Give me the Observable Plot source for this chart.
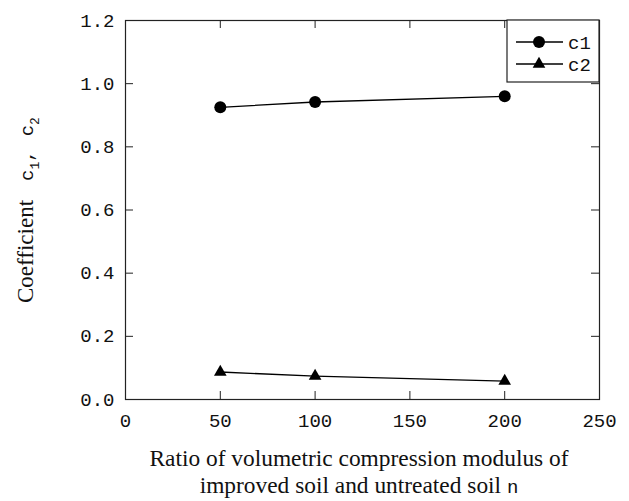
<!DOCTYPE html>
<html>
<head>
<meta charset="utf-8">
<script src="https://cdn.jsdelivr.net/npm/d3@7"></script>
<script src="https://cdn.jsdelivr.net/npm/@observablehq/plot@0.6"></script>
<style>
  html, body { margin: 0; padding: 0; background: #fff; }
  #chart svg { display: block; }
</style>
</head>
<body>
<div id="chart"></div>
<script>
const nValues = [50, 100, 200];
const c1Values = [0.925, 0.942, 0.960];
const c2Values = [0.087, 0.074, 0.058];
const xTicks = [0, 50, 100, 150, 200, 250];
const yTicks = [0, 0.2, 0.4, 0.6, 0.8, 1.0, 1.2];
const seriesNames = ["c1", "c2"];

const W = 629, H = 501;
const mL = 125, mR = 30, mT = 20, mB = 102;
const innerW = W - mL - mR, innerH = H - mT - mB;
const tickLen = 8;

const c1 = nValues.map((n, i) => ({n, v: c1Values[i]}));
const c2 = nValues.map((n, i) => ({n, v: c2Values[i]}));
const monoFont = "'Liberation Mono', 'DejaVu Sans Mono', monospace";
const serifFont = "'Liberation Serif', 'DejaVu Serif', serif";

const plot = Plot.plot({
  width: W, height: H,
  marginLeft: mL, marginRight: mR, marginTop: mT, marginBottom: mB,
  style: {fontFamily: monoFont, fontSize: "19px", color: "#111", background: "#fff"},
  x: {domain: [0, 250], ticks: xTicks, tickFormat: d => String(d)},
  y: {domain: [0, 1.2], ticks: yTicks, tickFormat: d => d.toFixed(1)},
  marks: [
    Plot.axisX({ticks: xTicks, tickSize: 0, tickPadding: 14, label: null, fontSize: 19}),
    Plot.axisY({ticks: yTicks, tickSize: 0, tickPadding: 11, label: null, fontSize: 19}),
    // inward ticks on all four sides
    Plot.tickX(xTicks, {x: d => d, insetTop: innerH - tickLen, stroke: "#222"}),
    Plot.tickX(xTicks, {x: d => d, insetBottom: innerH - tickLen, stroke: "#222"}),
    Plot.tickY(yTicks, {y: d => d, insetRight: innerW - tickLen, stroke: "#222"}),
    Plot.tickY(yTicks, {y: d => d, insetLeft: innerW - tickLen, stroke: "#222"}),
    Plot.frame({stroke: "#222", strokeWidth: 1.2}),
    Plot.line(c1, {x: "n", y: "v", stroke: "#000", strokeWidth: 1.3}),
    Plot.line(c2, {x: "n", y: "v", stroke: "#000", strokeWidth: 1.3}),
    Plot.dot(c1, {x: "n", y: "v", r: 6, fill: "#000", stroke: "none", symbol: "circle"}),
    Plot.dot(c2, {x: "n", y: "v", r: 4.7, fill: "#000", stroke: "none", symbol: "triangle"})
  ]
});

document.getElementById("chart").appendChild(plot);
const svg = d3.select(plot);

// Y axis title
const yt = svg.append("text")
  .attr("transform", `translate(33, 303) rotate(-90)`)
  .attr("text-anchor", "start")
  .attr("fill", "#111")
  .style("font-family", serifFont)
  .style("font-size", "23px");
yt.append("tspan").text("Coefficient");
yt.append("tspan").style("font-family", monoFont).style("font-size", "19px").attr("dx", 19).text("c");
yt.append("tspan").style("font-family", monoFont).style("font-size", "13px").attr("dy", 6).text("1");
yt.append("tspan").style("font-family", monoFont).style("font-size", "19px").attr("dy", -6).text(",");
yt.append("tspan").style("font-family", monoFont).style("font-size", "19px").attr("dx", 14).text("c");
yt.append("tspan").style("font-family", monoFont).style("font-size", "13px").attr("dy", 6).text("2");

// X axis title (two lines)
const xc = mL + innerW / 2 - 3;
svg.append("text")
  .attr("x", xc).attr("y", 466)
  .attr("text-anchor", "middle").attr("fill", "#111")
  .style("font-family", serifFont).style("font-size", "23.4px")
  .text("Ratio of volumetric compression modulus of");
const xt2 = svg.append("text")
  .attr("x", xc).attr("y", 493)
  .attr("text-anchor", "middle").attr("fill", "#111")
  .style("font-family", serifFont).style("font-size", "23.4px");
xt2.append("tspan").text("improved soil and untreated soil ");
xt2.append("tspan").style("font-family", monoFont).style("font-size", "19px").text("n");

// Legend
const lg = svg.append("g");
const lx0 = 507, ly0 = 20, lw = 92, lh = 62;
lg.append("rect").attr("x", lx0).attr("y", ly0).attr("width", lw).attr("height", lh)
  .attr("fill", "#fff").attr("stroke", "#222").attr("stroke-width", 1.2);
seriesNames.forEach((name, i) => {
  const yy = ly0 + 22 + i * 22;
  lg.append("line").attr("x1", lx0 + 9).attr("x2", lx0 + 56).attr("y1", yy).attr("y2", yy)
    .attr("stroke", "#000").attr("stroke-width", 1.3);
  const sym = i === 0 ? d3.symbolCircle : d3.symbolTriangle;
  const size = i === 0 ? Math.PI * 36 : Math.PI * 4.7 * 4.7;
  lg.append("path").attr("d", d3.symbol(sym, size)()).attr("transform", `translate(${lx0 + 32},${yy})`)
    .attr("fill", "#000");
  lg.append("text").attr("x", lx0 + 61).attr("y", yy).attr("dy", "0.35em")
    .attr("text-anchor", "start")
    .attr("fill", "#111").style("font-family", monoFont).style("font-size", "19px").text(name);
});
</script>
</body>
</html>
